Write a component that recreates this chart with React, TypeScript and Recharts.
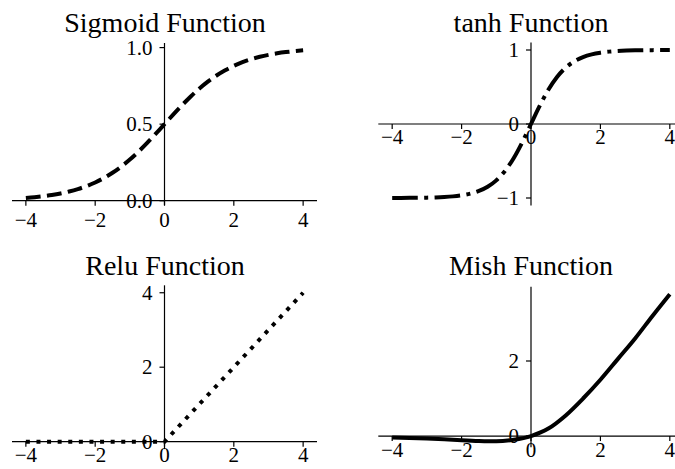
import React from 'react';
import { LineChart, Line, XAxis, YAxis, ReferenceLine, ReferenceDot } from 'recharts';

// x grid for the smooth curves (step 0.25)
const xFine = [
  -4, -3.75, -3.5, -3.25, -3, -2.75, -2.5, -2.25, -2, -1.75, -1.5, -1.25, -1, -0.75, -0.5, -0.25,
  0, 0.25, 0.5, 0.75, 1, 1.25, 1.5, 1.75, 2, 2.25, 2.5, 2.75, 3, 3.25, 3.5, 3.75, 4,
];
const sigmoidValues = [
  0.018, 0.023, 0.0293, 0.0373, 0.0474, 0.0601, 0.0759, 0.0953, 0.1192, 0.148, 0.1824, 0.2227, 0.2689, 0.3208, 0.3775, 0.4378,
  0.5, 0.5622, 0.6225, 0.6792, 0.7311, 0.7773, 0.8176, 0.852, 0.8808, 0.9047, 0.9241, 0.9399, 0.9526, 0.9627, 0.9707, 0.977, 0.982,
];
const tanhValues = [
  -0.9993, -0.9989, -0.9982, -0.997, -0.9951, -0.9919, -0.9866, -0.978, -0.964, -0.9414, -0.9051, -0.8483, -0.7616, -0.6351, -0.4621, -0.2449,
  0, 0.2449, 0.4621, 0.6351, 0.7616, 0.8483, 0.9051, 0.9414, 0.964, 0.978, 0.9866, 0.9919, 0.9951, 0.997, 0.9982, 0.9989, 0.9993,
];

// coarser grid (step 0.5)
const xCoarse = [-4, -3.5, -3, -2.5, -2, -1.5, -1, -0.5, 0, 0.5, 1, 1.5, 2, 2.5, 3, 3.5, 4];
const reluValues = [0, 0, 0, 0, 0, 0, 0, 0, 0, 0.5, 1, 1.5, 2, 2.5, 3, 3.5, 4];
const mishValues = [-0.04, -0.05, -0.065, -0.085, -0.11, -0.13, -0.14, -0.1, 0, 0.2, 0.55, 1.0, 1.5, 2.05, 2.6, 3.2, 3.78];

const xTicks = [-4, -2, 0, 2, 4];
const xTickLabels = ['\u22124', '\u22122', '0', '2', '4'];

const sigmoidTicks = [0, 0.5, 1];
const sigmoidTickLabels = ['0.0', '0.5', '1.0'];
const tanhTicks = [-1, 0, 1];
const tanhTickLabels = ['\u22121', '0', '1'];
const reluTicks = [0, 2, 4];
const reluTickLabels = ['0', '2', '4'];
const mishTicks = [0, 2];
const mishTickLabels = ['0', '2'];

const titles = ['Sigmoid Function', 'tanh Function', 'Relu Function', 'Mish Function'];

const FONT = '"Liberation Serif", "Times New Roman", serif';
const TICK_SIZE = 21;

const toRows = (xs: number[], ys: number[]) => xs.map((x, i) => ({ x, y: ys[i] }));

const XTick: React.FC<any> = ({ cx, cy, label, dy }) => (
  <g>
    <line x1={cx} x2={cx} y1={cy} y2={cy + 5} stroke="#000" strokeWidth={1.2} />
    <text x={cx} y={cy + dy} textAnchor="middle" fontSize={TICK_SIZE} fontFamily={FONT} fill="#000">
      {label}
    </text>
  </g>
);

const YTick: React.FC<any> = ({ cx, cy, label }) => (
  <g>
    <line x1={cx - 5} x2={cx} y1={cy} y2={cy} stroke="#000" strokeWidth={1.2} />
    <text x={cx - 12} y={cy + 7} textAnchor="end" fontSize={TICK_SIZE} fontFamily={FONT} fill="#000">
      {label}
    </text>
  </g>
);

interface PanelProps {
  left: number;
  top: number;
  width: number;
  height: number;
  margin: { top: number; right: number; bottom: number; left: number };
  yDomain: [number, number];
  rows: { x: number; y: number }[];
  yTicks: number[];
  yTickLabels: string[];
  xLabelDy: number;
  dash: string;
  lineWidth: number;
  curve: 'monotone' | 'linear';
}

const Panel: React.FC<PanelProps> = (p) => (
  <div style={{ position: 'absolute', left: p.left, top: p.top }}>
    <LineChart width={p.width} height={p.height} data={p.rows} margin={p.margin}>
      <XAxis type="number" dataKey="x" domain={[-4.4, 4.4]} hide allowDataOverflow />
      <YAxis type="number" domain={p.yDomain} hide allowDataOverflow />
      <ReferenceLine y={0} stroke="#000" strokeWidth={1.2} />
      <ReferenceLine x={0} stroke="#000" strokeWidth={1.2} />
      <Line
        dataKey="y"
        type={p.curve}
        stroke="#000"
        strokeWidth={p.lineWidth}
        strokeDasharray={p.dash}
        dot={false}
        activeDot={false}
        isAnimationActive={false}
      />
      {xTicks.map((t, i) => (
        <ReferenceDot
          key={'x' + t}
          x={t}
          y={0}
          shape={(s: any) => <XTick cx={s.cx} cy={s.cy} label={xTickLabels[i]} dy={p.xLabelDy} />}
        />
      ))}
      {p.yTicks.map((t, i) => (
        <ReferenceDot
          key={'y' + t}
          x={0}
          y={t}
          shape={(s: any) => <YTick cx={s.cx} cy={s.cy} label={p.yTickLabels[i]} />}
        />
      ))}
    </LineChart>
  </div>
);

export default function App() {
  return (
    <div
      style={{
        position: 'absolute',
        left: 0,
        top: 0,
        width: 675,
        height: 469,
        overflow: 'hidden',
        background: '#fff',
      }}
    >
      <Panel
        left={0}
        top={0}
        width={340}
        height={235}
        margin={{ top: 43, right: 23, bottom: 29.7, left: 12 }}
        yDomain={[-0.03, 1.03]}
        rows={toRows(xFine, sigmoidValues)}
        yTicks={sigmoidTicks}
        yTickLabels={sigmoidTickLabels}
        xLabelDy={26}
        dash="14.8 6.4"
        lineWidth={4}
        curve="monotone"
      />
      <Panel
        left={340}
        top={0}
        width={345}
        height={235}
        margin={{ top: 42.6, right: 1.3, bottom: 29.6, left: 38.3 }}
        yDomain={[-1.1, 1.1]}
        rows={toRows(xFine, tanhValues)}
        yTicks={tanhTicks}
        yTickLabels={tanhTickLabels}
        xLabelDy={20}
        dash="25.6 6.4 4 6.4"
        lineWidth={4}
        curve="monotone"
      />
      <Panel
        left={0}
        top={235}
        width={340}
        height={234}
        margin={{ top: 50.3, right: 23, bottom: 19.9, left: 12 }}
        yDomain={[-0.2, 4.2]}
        rows={toRows(xCoarse, reluValues)}
        yTicks={reluTicks}
        yTickLabels={reluTickLabels}
        xLabelDy={20}
        dash="4 6.6"
        lineWidth={4}
        curve="linear"
      />
      <Panel
        left={340}
        top={235}
        width={345}
        height={234}
        margin={{ top: 51.7, right: 1.3, bottom: 21.7, left: 38.3 }}
        yDomain={[-0.3, 3.98]}
        rows={toRows(xCoarse, mishValues)}
        yTicks={mishTicks}
        yTickLabels={mishTickLabels}
        xLabelDy={21}
        dash=""
        lineWidth={4}
        curve="monotone"
      />
      <svg
        width={675}
        height={469}
        style={{ position: 'absolute', left: 0, top: 0, pointerEvents: 'none' }}
      >
        <text x={165} y={32} textAnchor="middle" fontSize={28} fontFamily={FONT} fill="#000">{titles[0]}</text>
        <text x={531} y={32} textAnchor="middle" fontSize={28} fontFamily={FONT} fill="#000">{titles[1]}</text>
        <text x={165} y={275} textAnchor="middle" fontSize={28} fontFamily={FONT} fill="#000">{titles[2]}</text>
        <text x={531} y={275} textAnchor="middle" fontSize={28} fontFamily={FONT} fill="#000">{titles[3]}</text>
      </svg>
    </div>
  );
}
